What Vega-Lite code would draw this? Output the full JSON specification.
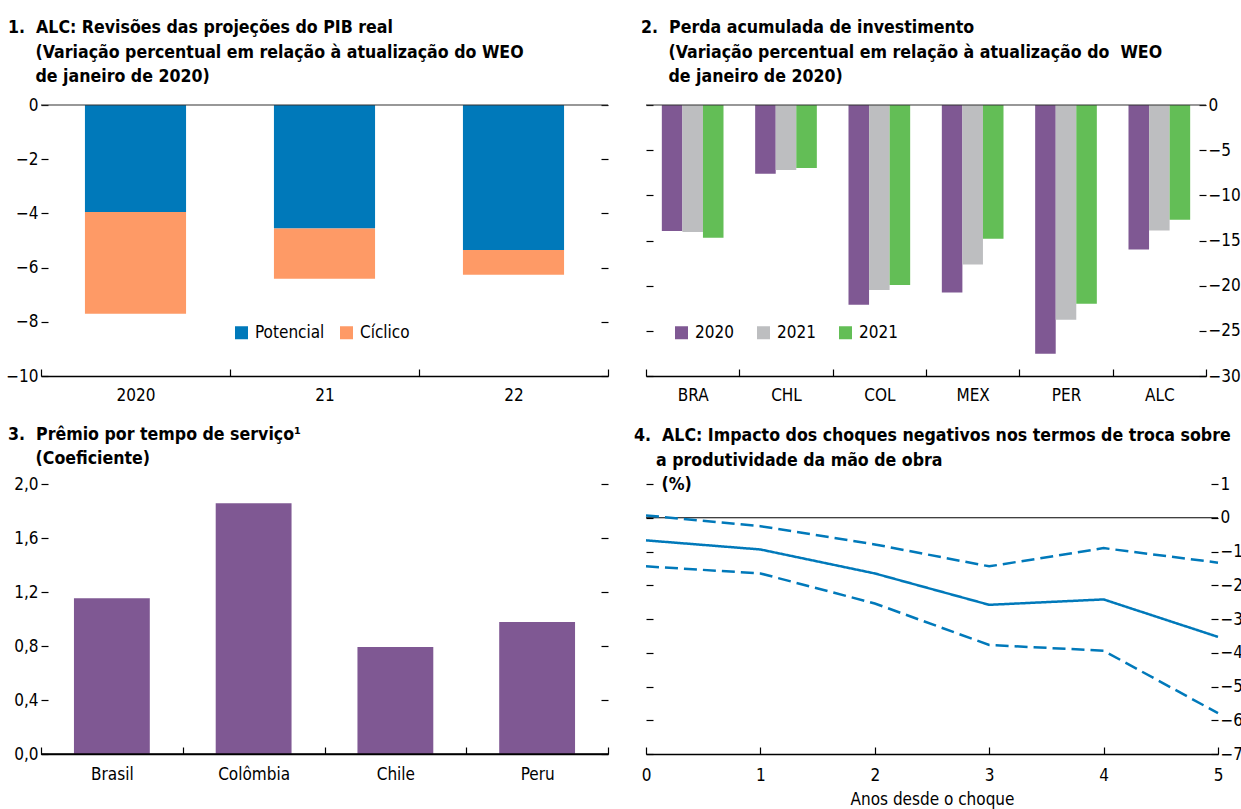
{
  "$schema": "https://vega.github.io/schema/vega-lite/v6.json",
  "padding": {"left": 5, "top": 19, "right": 0, "bottom": 5},
  "background": "white",
  "columns": 2,
  "bounds": "flush",
  "align": "each",
  "spacing": {"row": 108, "column": 38},
  "resolve": {"scale": {"color": "independent", "y": "independent", "x": "independent"}, "legend": {"color": "independent"}},
  "config": {
    "font": "DejaVu Sans Condensed, Liberation Sans, sans-serif",
    "view": {"stroke": null},
    "axis": {
      "labelFont": "DejaVu Sans Condensed, Liberation Sans, sans-serif", "labelFontSize": 17, "labelColor": "black",
      "tickColor": "black", "tickWidth": 1.2, "domainColor": "black", "domainWidth": 1.5,
      "grid": false, "titleFont": "DejaVu Sans Condensed, Liberation Sans, sans-serif", "titleFontSize": 17,
      "titleFontWeight": "normal", "titleColor": "black", "labelOverlap": false
    },
    "title": {"font": "DejaVu Sans Condensed, Liberation Sans, sans-serif", "fontSize": 17.6, "fontWeight": "bold", "anchor": "start", "frame": "group", "lineHeight": 24.5, "color": "black"},
    "legend": {"labelFont": "DejaVu Sans Condensed, Liberation Sans, sans-serif", "labelFontSize": 17, "labelColor": "black", "padding": 0}
  },
  "datasets": {
    "pib": [
      {"ano": "2020", "componente": "Potencial", "valor": -3.95},
      {"ano": "2020", "componente": "Cíclico", "valor": -3.75},
      {"ano": "21", "componente": "Potencial", "valor": -4.56},
      {"ano": "21", "componente": "Cíclico", "valor": -1.85},
      {"ano": "22", "componente": "Potencial", "valor": -5.35},
      {"ano": "22", "componente": "Cíclico", "valor": -0.91}
    ],
    "investimento": [
      {"pais": "BRA", "serie": "2020", "valor": -13.95},
      {"pais": "BRA", "serie": "2021", "valor": -14.06},
      {"pais": "BRA", "serie": "2021b", "valor": -14.69},
      {"pais": "CHL", "serie": "2020", "valor": -7.6},
      {"pais": "CHL", "serie": "2021", "valor": -7.2},
      {"pais": "CHL", "serie": "2021b", "valor": -6.97},
      {"pais": "COL", "serie": "2020", "valor": -22.1},
      {"pais": "COL", "serie": "2021", "valor": -20.48},
      {"pais": "COL", "serie": "2021b", "valor": -19.93},
      {"pais": "MEX", "serie": "2020", "valor": -20.77},
      {"pais": "MEX", "serie": "2021", "valor": -17.67},
      {"pais": "MEX", "serie": "2021b", "valor": -14.8},
      {"pais": "PER", "serie": "2020", "valor": -27.53},
      {"pais": "PER", "serie": "2021", "valor": -23.76},
      {"pais": "PER", "serie": "2021b", "valor": -21.99},
      {"pais": "ALC", "serie": "2020", "valor": -16.0},
      {"pais": "ALC", "serie": "2021", "valor": -13.9},
      {"pais": "ALC", "serie": "2021b", "valor": -12.7}
    ],
    "premio": [
      {"pais": "Brasil", "coef": 1.153},
      {"pais": "Colômbia", "coef": 1.857},
      {"pais": "Chile", "coef": 0.793},
      {"pais": "Peru", "coef": 0.978}
    ],
    "choque": [
      {"anos": 0, "serie": "Estimativa", "valor": -0.67},
      {"anos": 1, "serie": "Estimativa", "valor": -0.94},
      {"anos": 2, "serie": "Estimativa", "valor": -1.65},
      {"anos": 3, "serie": "Estimativa", "valor": -2.58},
      {"anos": 4, "serie": "Estimativa", "valor": -2.42},
      {"anos": 5, "serie": "Estimativa", "valor": -3.53},
      {"anos": 0, "serie": "Limite superior", "valor": 0.07},
      {"anos": 1, "serie": "Limite superior", "valor": -0.25},
      {"anos": 2, "serie": "Limite superior", "valor": -0.79},
      {"anos": 3, "serie": "Limite superior", "valor": -1.44},
      {"anos": 4, "serie": "Limite superior", "valor": -0.9},
      {"anos": 5, "serie": "Limite superior", "valor": -1.33},
      {"anos": 0, "serie": "Limite inferior", "valor": -1.44},
      {"anos": 1, "serie": "Limite inferior", "valor": -1.65},
      {"anos": 2, "serie": "Limite inferior", "valor": -2.54},
      {"anos": 3, "serie": "Limite inferior", "valor": -3.77},
      {"anos": 4, "serie": "Limite inferior", "valor": -3.94},
      {"anos": 5, "serie": "Limite inferior", "valor": -5.79}
    ],
    "zero": [{"zero": 0}]
  },
  "concat": [
    {
      "width": 567, "height": 271,
      "title": {"text": ["1.\u00a0\u00a0ALC: Revisões das projeções do PIB real", "\u200b\u00a0\u00a0\u00a0\u00a0\u00a0(Variação percentual em relação à atualização do WEO", "\u200b\u00a0\u00a0\u00a0\u00a0\u00a0de janeiro de 2020)"], "dx": -33, "offset": 10},
      "layer": [
        {
          "data": {"name": "pib"},
          "mark": {"type": "bar", "width": {"band": 0.535}},
          "encoding": {
            "x": {"field": "ano", "type": "nominal", "sort": null, "scale": {"paddingInner": 0, "paddingOuter": 0},
                  "axis": {"title": null, "labelAngle": 0, "tickBand": "extent", "tickSize": -7, "labelPadding": 18}},
            "y": {"field": "valor", "type": "quantitative", "stack": "zero", "scale": {"domain": [-10, 0], "nice": false},
                  "axis": {"title": null, "values": [0, -2, -4, -6, -8, -10], "tickSize": -7, "labelPadding": 10, "domain": false}},
            "color": {"field": "componente", "type": "nominal", "scale": {"domain": ["Potencial", "Cíclico"], "range": ["#0079BA", "#FE9A66"]},
                      "legend": {"orient": "none", "legendX": 192, "legendY": 219, "direction": "horizontal", "title": null, "symbolType": "square", "symbolSize": 169, "symbolStrokeWidth": 0, "labelOffset": 5, "columnPadding": 13}},
            "order": {"field": "componente", "sort": "descending"}
          }
        },
        {
          "data": {"name": "zero"},
          "mark": {"type": "rule", "color": "#333333", "strokeWidth": 1.2},
          "encoding": {
            "y": {"field": "zero", "type": "quantitative", "scale": {"domain": [-10, 0], "nice": false},
                  "axis": {"orient": "right", "title": null, "labels": false, "values": [0, -2, -4, -6, -8, -10], "tickSize": -7, "domain": false}}
          }
        }
      ],
      "resolve": {"scale": {"y": "independent"}}
    },
    {
      "width": 560, "height": 271,
      "title": {"text": ["2.\u00a0\u00a0Perda acumulada de investimento", "\u200b\u00a0\u00a0\u00a0\u00a0\u00a0(Variação percentual em relação à atualização do\u00a0\u00a0WEO", "\u200b\u00a0\u00a0\u00a0\u00a0\u00a0de janeiro de 2020)"], "dx": -5, "offset": 10},
      "layer": [
        {
          "data": {"name": "investimento"},
          "mark": {"type": "bar"},
          "encoding": {
            "x": {"field": "pais", "type": "nominal", "sort": null, "scale": {"paddingInner": 0, "paddingOuter": 0},
                  "axis": {"title": null, "labelAngle": 0, "tickBand": "extent", "tickSize": -7, "labelPadding": 18}},
            "xOffset": {"field": "serie", "type": "nominal", "scale": {"paddingInner": 0, "paddingOuter": 0.77}},
            "y": {"field": "valor", "type": "quantitative", "scale": {"domain": [-30, 0], "nice": false},
                  "axis": {"orient": "right", "title": null, "values": [0, -5, -10, -15, -20, -25, -30], "tickSize": -7, "labelPadding": 9, "domain": false}},
            "color": {"field": "serie", "type": "nominal", "scale": {"domain": ["2020", "2021", "2021b"], "range": ["#7F5893", "#BDBEC0", "#63BE56"]},
                      "legend": {"orient": "none", "legendX": 27, "legendY": 219, "direction": "horizontal", "title": null, "symbolType": "square", "symbolSize": 169, "symbolStrokeWidth": 0, "labelOffset": 5, "columnPadding": 21,
                                 "labelExpr": "datum.label == '2021b' ? '2021' : datum.label",
                                 "encode": {"symbols": {"update": {"fill": {"signal": "datum.value == '2021b' ? '#3DAA35' : (datum.value == '2020' ? '#7F5893' : '#BDBEC0')"}}}}}}
          }
        },
        {
          "data": {"name": "zero"},
          "mark": {"type": "rule", "color": "#333333", "strokeWidth": 1.2},
          "encoding": {
            "y": {"field": "zero", "type": "quantitative", "scale": {"domain": [-30, 0], "nice": false},
                  "axis": {"orient": "left", "title": null, "labels": false, "values": [0, -5, -10, -15, -20, -25, -30], "tickSize": -7, "domain": false}}
          }
        }
      ],
      "resolve": {"scale": {"y": "independent"}}
    },
    {
      "width": 567, "height": 270,
      "title": {"text": ["3.\u00a0\u00a0Prêmio por tempo de serviço¹", "\u200b\u00a0\u00a0\u00a0\u00a0\u00a0(Coeficiente)"], "dx": -33, "offset": 7},
      "layer": [
        {
          "data": {"name": "premio"},
          "mark": {"type": "bar", "width": {"band": 0.535}, "color": "#7F5893"},
          "encoding": {
            "x": {"field": "pais", "type": "nominal", "sort": null, "scale": {"paddingInner": 0, "paddingOuter": 0},
                  "axis": {"title": null, "labelAngle": 0, "tickBand": "extent", "tickSize": -7, "labelPadding": 19}},
            "y": {"field": "coef", "type": "quantitative", "scale": {"domain": [0, 2], "nice": false},
                  "axis": {"title": null, "values": [0, 0.4, 0.8, 1.2, 1.6, 2.0], "labelExpr": "replace(format(datum.value, '.1f'), '.', ',')", "tickSize": -7, "labelPadding": 10, "domain": false}}
          }
        },
        {
          "data": {"name": "zero"},
          "mark": {"type": "rule", "color": "black", "strokeWidth": 1.5},
          "encoding": {
            "y": {"field": "zero", "type": "quantitative", "scale": {"domain": [0, 2], "nice": false},
                  "axis": {"orient": "right", "title": null, "labels": false, "values": [0, 0.4, 0.8, 1.2, 1.6, 2.0], "tickSize": -7, "domain": false}}
          }
        }
      ],
      "resolve": {"scale": {"y": "independent"}}
    },
    {
      "width": 572, "height": 270,
      "title": {"text": ["4.\u00a0\u00a0ALC: Impacto dos choques negativos nos termos de troca sobre", "\u200b\u00a0\u00a0\u00a0\u00a0a produtividade da mão de obra", "\u200b\u00a0\u00a0\u00a0\u00a0\u00a0(%)"], "dx": -12, "offset": -19},
      "layer": [
        {
          "data": {"name": "zero"},
          "mark": {"type": "rule", "color": "black", "strokeWidth": 1.2},
          "encoding": {
            "y": {"field": "zero", "type": "quantitative", "scale": {"domain": [-7, 1], "nice": false},
                  "axis": {"orient": "left", "title": null, "labels": false, "values": [1, 0, -1, -2, -3, -4, -5, -6, -7], "tickSize": -7, "domain": false}}
          }
        },
        {
          "data": {"name": "choque"},
          "mark": {"type": "line", "color": "#0079BA", "strokeWidth": 2.5},
          "encoding": {
            "x": {"field": "anos", "type": "quantitative", "scale": {"domain": [0, 5], "nice": false},
                  "axis": {"title": "Anos desde o choque", "values": [0, 1, 2, 3, 4, 5], "format": "d", "tickSize": -7, "labelPadding": 20, "labelFlush": false, "titlePadding": 8}},
            "y": {"field": "valor", "type": "quantitative", "scale": {"domain": [-7, 1], "nice": false},
                  "axis": {"orient": "right", "title": null, "values": [1, 0, -1, -2, -3, -4, -5, -6, -7], "tickSize": -7, "labelPadding": 9, "domain": false}},
            "detail": {"field": "serie", "type": "nominal"},
            "strokeDash": {"field": "serie", "type": "nominal", "scale": {"domain": ["Estimativa", "Limite superior", "Limite inferior"], "range": [[1, 0], [13, 6], [13, 6]]}, "legend": null}
          }
        }
      ],
      "resolve": {"scale": {"y": "independent"}}
    }
  ]
}
